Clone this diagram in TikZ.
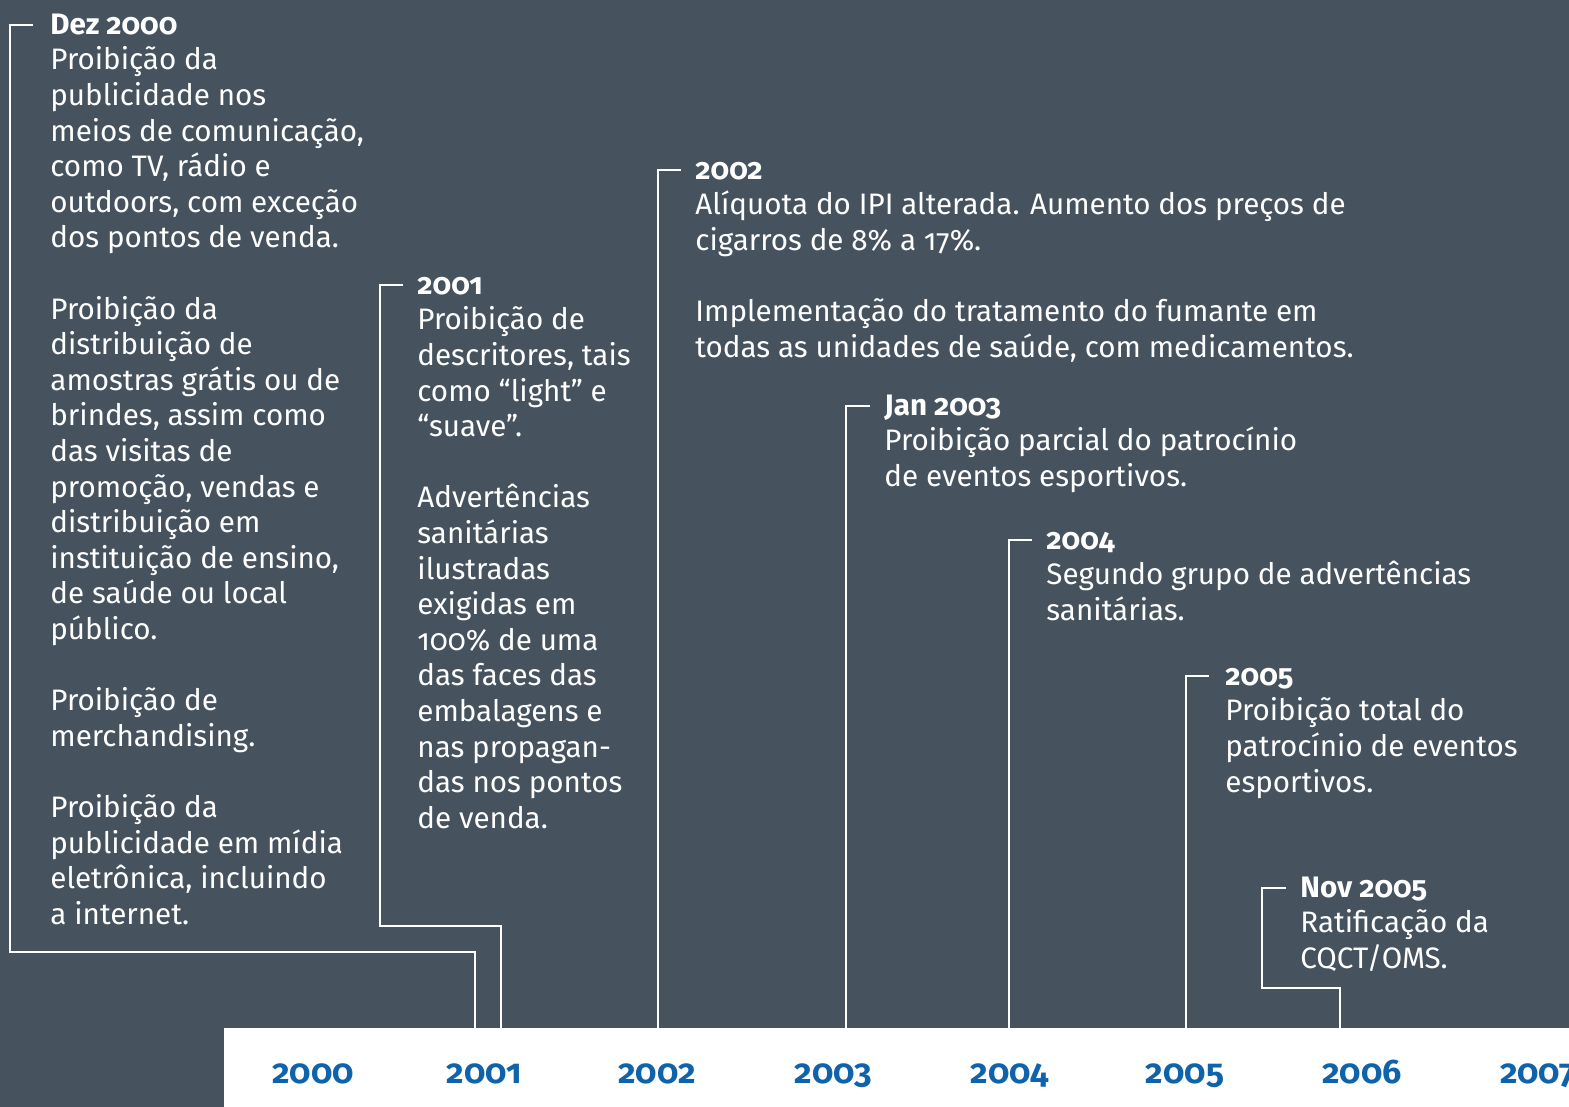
\documentclass[tikz,border=0pt]{standalone}
\usepackage{fontspec}
\setmainfont{Fira Sans}[Numbers=OldStyle]
\usetikzlibrary{positioning}
\definecolor{slate}{RGB}{70,83,94}
\definecolor{yearblue}{RGB}{14,99,170}
\tikzset{
  event/.style={inner sep=0pt, align=left, text=white,
    font=\fontsize{14.8}{17.8}\selectfont},
  bracket/.style={draw=white, line width=1.3pt},
  yearlabel/.style={anchor=base, text=yearblue,
    font=\fontsize{17}{20}\selectfont\bfseries}
}
\newcommand{\evhead}[1]{\strut\textbf{#1}}
\newcommand{\gap}{\\[17.8pt]}

\begin{document}
\begin{tikzpicture}[x=0.5pt,y=-0.5pt]
	% Background
	\useasboundingbox (0,0) rectangle (1569,1107);
	\fill[slate] (0,0) rectangle (1569,1107);
	
	% Tick starts and ends on the time axis
	\coordinate (t2000) at (33,25);
	\coordinate (t2001) at (403,285);
	\coordinate (t2002) at (681,170);
	\coordinate (t2003) at (870,406);
	\coordinate (t2004) at (1032,540);
	\coordinate (t2005) at (1209,676);
	\coordinate (t2005n) at (1286,888);
	\coordinate (b2000) at (475,1028);
	\coordinate (b2001) at (501,1028);
	\coordinate (b2002) at (658,1028);
	\coordinate (b2003) at (846,1028);
	\coordinate (b2004) at (1009,1028);
	\coordinate (b2005) at (1186,1028);
	\coordinate (b2005n) at (1340,1028);
	
	% Events
	\node[event, below right=-8pt and 8.5pt of t2000] (ev2000) {\evhead{Dez 2000}\\
		Proibição da\\ publicidade nos\\ meios de comunicação,\\ como TV, rádio e\\
		outdoors, com exceção\\ dos pontos de venda.\gap
		Proibição da\\ distribuição de\\ amostras grátis ou de\\ brindes, assim como\\
		das visitas de\\ promoção, vendas e\\ distribuição em\\ instituição de ensino,\\
		de saúde ou local\\ público.\gap
		Proibição de\\ merchandising.\gap
		Proibição da\\ publicidade em mídia\\ eletrônica, incluindo\\ a internet.};
	\node[event, below right=-8pt and 7pt of t2001] (ev2001) {\evhead{2001}\\
		Proibição de\\ descritores, tais\\ como “light” e\\ “suave”.\gap
		Advertências\\ sanitárias\\ ilustradas\\ exigidas em\\ 100\% de uma\\
		das faces das\\ embalagens e\\ nas propagan-\\ das nos pontos\\ de venda.};
	\node[event, below right=-8pt and 7pt of t2002] (ev2002) {\evhead{2002}\\
		Alíquota do IPI alterada. Aumento dos preços de\\ cigarros de 8\% a 17\%.\gap
		Implementação do tratamento do fumante em\\ todas as unidades de saúde, com medicamentos.};
	\node[event, below right=-8pt and 7pt of t2003] (ev2003) {\evhead{Jan 2003}\\
		Proibição parcial do patrocínio\\ de eventos esportivos.};
	\node[event, below right=-8pt and 7pt of t2004] (ev2004) {\evhead{2004}\\
		Segundo grupo de advertências\\ sanitárias.};
	\node[event, below right=-8pt and 8pt of t2005] (ev2005) {\evhead{2005}\\
		Proibição total do\\ patrocínio de eventos\\ esportivos.};
	\node[event, below right=-8pt and 7pt of t2005n] (ev2005n) {\evhead{Nov 2005}\\
		Ratificação da\\ CQCT/OMS.};
	
	% Brackets down to the axis
	\draw[bracket] (t2000) -| (10,952) -| (b2000);
	\draw[bracket] (t2001) -| (380,926) -| (b2001);
	\draw[bracket] (t2002) -| (b2002);
	\draw[bracket] (t2003) -| (b2003);
	\draw[bracket] (t2004) -| (b2004);
	\draw[bracket] (t2005) -| (b2005);
	\draw[bracket] (t2005n) -| (1262,988) -| (b2005n);
	
	% Time axis
	\fill[white] (224,1028) rectangle (1569,1107);
	\foreach \yr/\xx in {2000/313,2001/484,2002/657,2003/833,2004/1010,2005/1185,2006/1362,2007/1538}
		\node[yearlabel] (y\yr) at (\xx,1083) {\yr};
\end{tikzpicture}
\end{document}
